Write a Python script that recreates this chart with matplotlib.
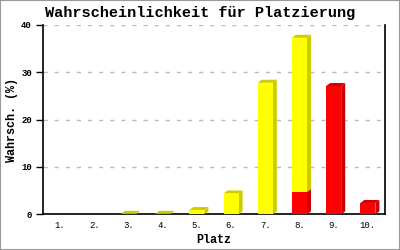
import numpy as np
import matplotlib
matplotlib.use("Agg")
import matplotlib.pyplot as plt
from matplotlib.patches import Polygon, Rectangle

# data
plaetze = ["1.", "2.", "3.", "4.", "5.", "6.", "7.", "8.", "9.", "10."]
gelb = [0.0, 0.0, 0.1, 0.1, 0.9, 4.4, 27.8, 32.6, 0.0, 0.0]
rot = [0.0, 0.0, 0.0, 0.0, 0.0, 0.0, 0.0, 4.7, 27.1, 2.4]
yticks = [0, 10, 20, 30, 40]

W, H = 400, 250
fig = plt.figure(figsize=(4, 2.5), dpi=100)
fig.patch.set_facecolor("white")
fig.patches.append(Rectangle((0, 0), 1, 1, transform=fig.transFigure,
                             fill=False, ec="#999999", lw=1.5))

x0, x1, ytop, ybot = 43, 385, 25, 214.3
ax = fig.add_axes([x0 / W, 1 - ybot / H, (x1 - x0) / W, (ybot - ytop) / H])
ax.set_xlim(0, len(plaetze))
ax.set_ylim(0, 40)

# 3D offsets in data units (about 4 px right, 3 px up)
px_x = (x1 - x0) / len(plaetze)
px_y = (ybot - ytop) / 40
dx, dy = 4 / px_x, 3 / px_y
bw = 15 / px_x


def box3d(xc, y0, h, front, dark):
    if h <= 0:
        return
    l, r = xc - bw / 2, xc + bw / 2
    ax.add_patch(Polygon([(r, y0), (r + dx, y0 + dy), (r + dx, y0 + h + dy), (r, y0 + h)],
                         closed=True, fc=dark, ec="none", zorder=3))
    ax.add_patch(Polygon([(l, y0 + h), (l + dx, y0 + h + dy), (r + dx, y0 + h + dy), (r, y0 + h)],
                         closed=True, fc=dark, ec="none", zorder=3))
    ax.add_patch(Rectangle((l, y0), bw, h, fc=front, ec="none", zorder=4))


for i in range(len(plaetze)):
    xc = i + 0.5
    box3d(xc, 0, rot[i], "#ff0000", "#cc0000")
    box3d(xc, rot[i], gelb[i], "#ffff00", "#cccc00")

mono = "Liberation Mono"
ax.set_xticks(np.arange(len(plaetze)) + 0.5)
ax.set_xticklabels(plaetze, family=mono, fontsize=6.5)
ax.set_yticks(yticks)
ax.set_yticklabels([str(t) for t in yticks], family=mono, fontsize=6.5, fontweight="bold")
ax.tick_params(axis="x", length=0, pad=5)
ax.tick_params(axis="y", length=5, width=1, pad=3)
ax.grid(axis="y", color="#bbbbbb", ls=(0, (3, 5)), lw=1)
ax.set_axisbelow(True)
for s in ["left", "bottom", "right"]:
    ax.spines[s].set_linewidth(1.2)
ax.spines["top"].set_visible(False)

ax.set_xlabel("Platz", family=mono, fontsize=8.5, fontweight="bold", labelpad=3)
ax.set_ylabel("Wahrsch. (%)", family=mono, fontsize=8.5, fontweight="bold", labelpad=2)
fig.text(200 / W, 1 - 13 / H, "Wahrscheinlichkeit für Platzierung", family=mono,
         fontsize=11, fontweight="bold", ha="center", va="center")

fig.savefig("out.png", dpi=100)
